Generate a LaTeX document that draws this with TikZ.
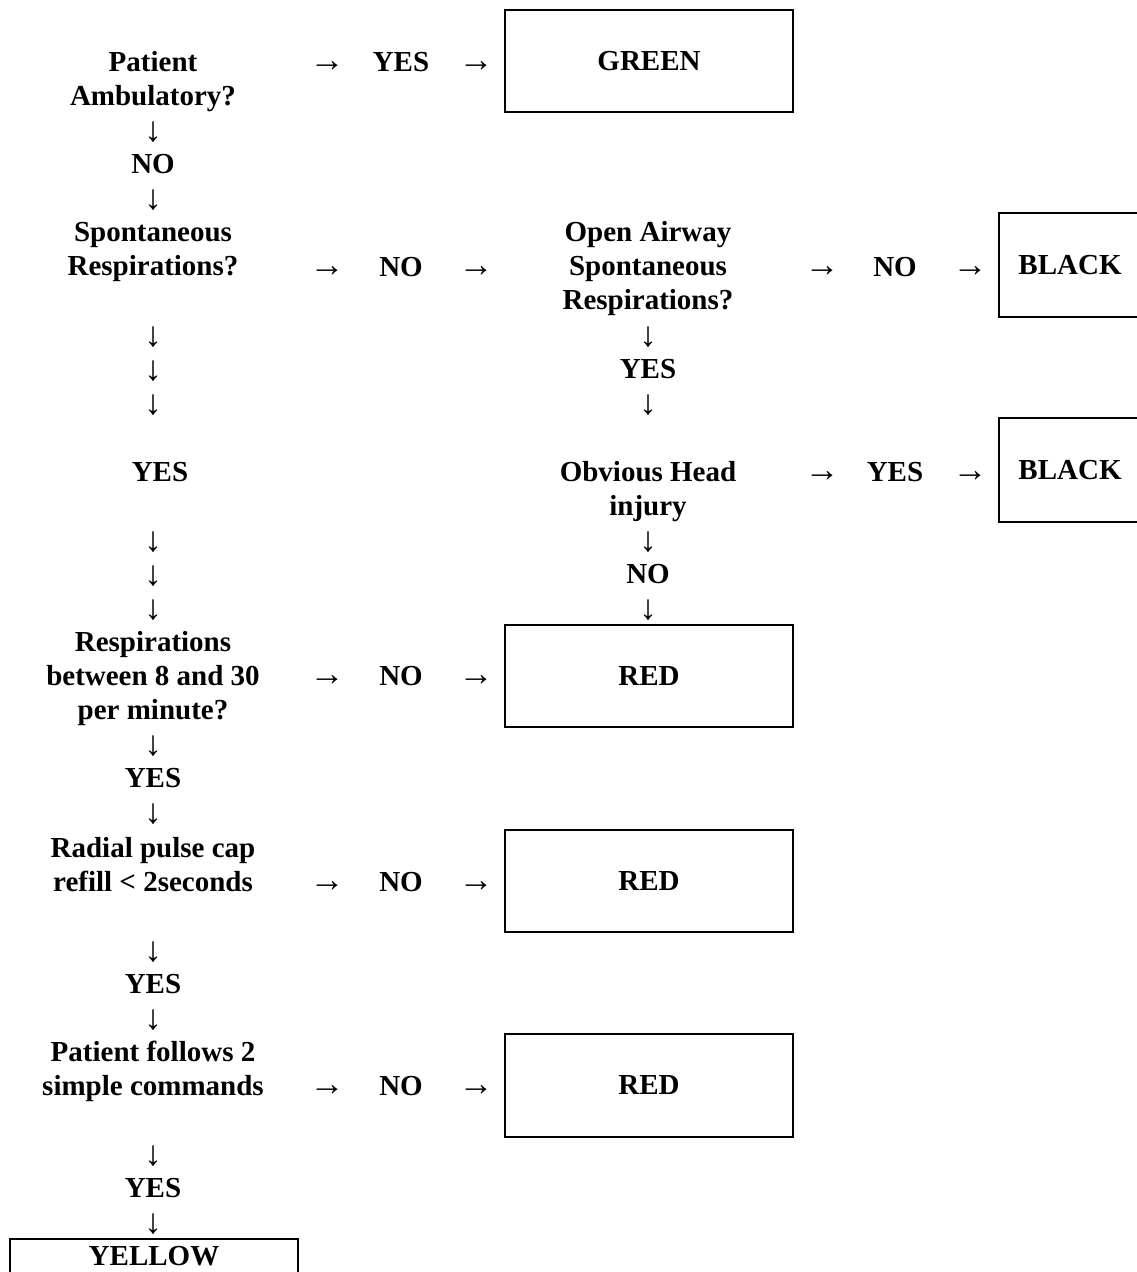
\documentclass[tikz,border=0pt]{standalone}
\usepackage{fontspec}
\setmainfont{Liberation Serif}
\begin{document}
\begin{tikzpicture}[x=1pt,y=-1pt,
  t/.style={font=\fontsize{29}{34}\selectfont\bfseries, inner sep=0pt, align=center, anchor=base},
  ar/.style={font=\fontsize{35}{34}\selectfont, inner sep=0pt, anchor=base},
  box/.style={draw, line width=2pt, inner sep=0pt, font=\fontsize{29}{34}\selectfont\bfseries}]
\useasboundingbox (0,0) rectangle (1137,1272);
\clip (0,0) rectangle (1137,1272);
% column 1 (multi-line nodes: base = baseline of last line)
\node[t] (pa) at (153,105.5) {Patient\\Ambulatory?};
\node[ar] (d1) at (153,141.5) {↓};
\node[t] (no1) at (153,173.5) {NO};
\node[ar] (d2) at (153,209.5) {↓};
\node[t] (sr) at (153,275.5) {Spontaneous\\Respirations?};
\node[ar] (d3) at (153,346.5) {↓};
\node[ar] (d4) at (153,380.5) {↓};
\node[ar] (d5) at (153,414.5) {↓};
\node[t] (yes1) at (160,481.5) {YES};
\node[ar] (d6) at (153,551.5) {↓};
\node[ar] (d7) at (153,585.5) {↓};
\node[ar] (d8) at (153,619.5) {↓};
\node[t] (rb) at (153,719.5) {Respirations\\between 8 and 30\\per minute?};
\node[ar] (d9) at (153,755.5) {↓};
\node[t] (yes2) at (153,787.5) {YES};
\node[ar] (d10) at (153,823.5) {↓};
\node[t] (rp) at (153,891.5) {Radial pulse cap\\refill < 2seconds};
\node[ar] (d11) at (153,961.5) {↓};
\node[t] (yes3) at (153,993.5) {YES};
\node[ar] (d12) at (153,1029.5) {↓};
\node[t] (pf) at (153,1095.5) {Patient follows 2\\simple commands};
\node[ar] (d13) at (153,1165.5) {↓};
\node[t] (yes4) at (153,1197.5) {YES};
\node[ar] (d14) at (153,1233.5) {↓};
\draw[line width=2pt] (10,1300) -- (10,1239) -- (298,1239) -- (298,1300);
\node[t] (yellow) at (154,1265.5) {YELLOW};
% middle column
\node[ar] (r1a) at (327,71.5) {→};
\node[t] (r1b) at (401,71.5) {YES};
\node[ar] (r1c) at (476,71.5) {→};
\node[ar] (r2a) at (327,276.5) {→};
\node[t] (r2b) at (401,276.5) {NO};
\node[ar] (r2c) at (476,276.5) {→};
\node[ar] (r3a) at (327,685.5) {→};
\node[t] (r3b) at (401,685.5) {NO};
\node[ar] (r3c) at (476,685.5) {→};
\node[ar] (r4a) at (327,891.5) {→};
\node[t] (r4b) at (401,891.5) {NO};
\node[ar] (r4c) at (476,891.5) {→};
\node[ar] (r5a) at (327,1095.5) {→};
\node[t] (r5b) at (401,1095.5) {NO};
\node[ar] (r5c) at (476,1095.5) {→};
% boxes
\node[box, minimum width=288pt, minimum height=102pt] (green) at (649,61) {GREEN};
\node[box, minimum width=288pt, minimum height=102pt] (red1) at (649,676) {RED};
\node[box, minimum width=288pt, minimum height=102pt] (red2) at (649,881) {RED};
\node[box, minimum width=288pt, minimum height=103pt] (red3) at (649,1085.5) {RED};
\node[box, minimum width=142pt, minimum height=104pt] (black1) at (1070,265) {BLACK};
\node[box, minimum width=142pt, minimum height=104pt] (black2) at (1070,470) {BLACK};
% column 3
\node[t] (oa) at (648,309.5) {Open Airway\\Spontaneous\\Respirations?};
\node[ar] (d15) at (648,346.5) {↓};
\node[t] (yes5) at (648,378.5) {YES};
\node[ar] (d16) at (648,414.5) {↓};
\node[t] (oh) at (648,515.5) {Obvious Head\\injury};
\node[ar] (d17) at (648,551.5) {↓};
\node[t] (no5) at (648,583.5) {NO};
\node[ar] (d18) at (648,619.5) {↓};
% right column
\node[ar] (r6a) at (822,276.5) {→};
\node[t] (r6b) at (895,276.5) {NO};
\node[ar] (r6c) at (970,276.5) {→};
\node[ar] (r7a) at (822,481.5) {→};
\node[t] (r7b) at (895,481.5) {YES};
\node[ar] (r7c) at (970,481.5) {→};
\end{tikzpicture}
\end{document}
